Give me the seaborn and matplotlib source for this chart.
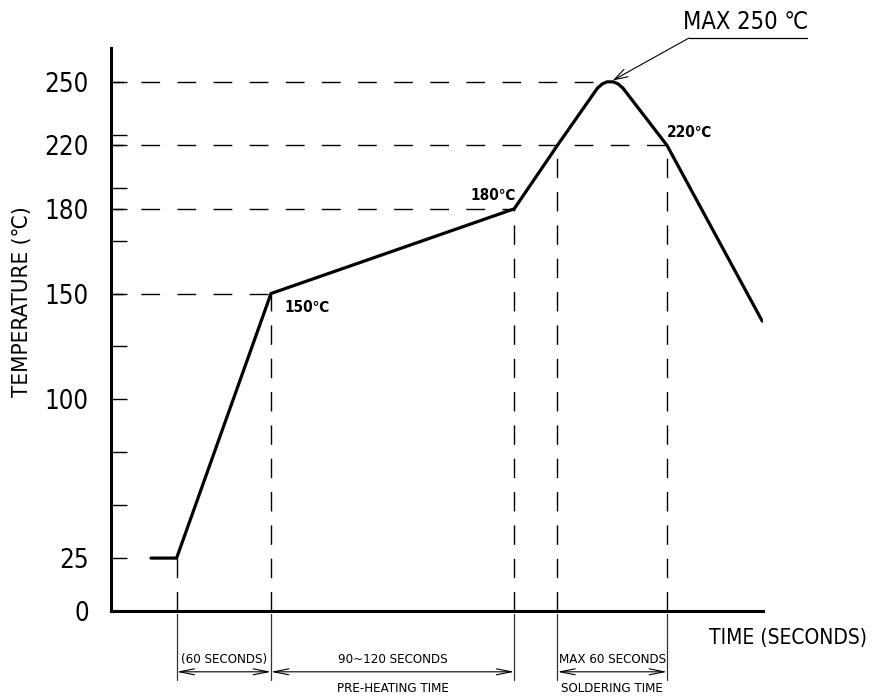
import numpy as np
import pandas as pd
import matplotlib
matplotlib.use("Agg")
import matplotlib.pyplot as plt
import seaborn as sns

# ---------------- data ----------------
time_s = [25, 41, 100, 252, 279, 304, 307, 310, 314, 317, 320, 347.5, 407]
temp_c = [25, 25, 150, 180, 220, 247, 249, 250, 250, 249, 247, 220, 137]

# horizontal reference levels (temperature, time where they meet the curve)
hline_temp = [150, 180, 220, 250]
hline_end = [100, 252, 347.5, 307]
# vertical reference lines (time, temperature at the curve)
vline_time = [41, 100, 252, 279, 347.5]
vline_top = [25, 150, 180, 220, 220]

# labelled y ticks and unlabelled intermediate ticks
ytick_major = [0, 25, 100, 150, 180, 220, 250]
ytick_labels = ["0", "25", "100", "150", "180", "220", "250"]
ytick_minor_pos = [50, 75, 125, 175, 200, 225]

# schematic (non-linear) temperature axis anchors
scale_temp = [-1000, 0, 150, 180, 220, 1000]
scale_pos = [-1000, 0, 150, 190, 220, 1000]

# curve point labels
point_labels = ["150℃", "180℃", "220℃"]
point_xy = [(100, 150), (252, 180), (347.5, 220)]
point_offsets = [(26, -10), (-15, 9.5), (16, 9.5)]

# dimension spans below the time axis
spans = [(41, 100), (100, 252), (279, 347.5)]
span_top = ["(60 SECONDS)", "90~120 SECONDS", "MAX 60 SECONDS"]
span_bottom = ["", "PRE-HEATING TIME", "SOLDERING TIME"]

peak_xy = (312, 250)

# ---------------- style ----------------
sns.set_theme(style="white")
plt.rcParams["font.family"] = ["DejaVu Sans"]
plt.rcParams["font.stretch"] = "condensed"
plt.rcParams["lines.scale_dashes"] = False

fig = plt.figure(figsize=(8.9, 6.97), dpi=100)
ax = fig.add_axes([111 / 890, 86 / 697, 652 / 890, 563 / 697])

df = pd.DataFrame({"time": time_s, "temp": temp_c})
sns.lineplot(data=df, x="time", y="temp", sort=False, color="black",
             lw=2.3, ax=ax, zorder=5)


def fwd(t):
    return np.interp(t, scale_temp, scale_pos)


def inv(p):
    return np.interp(p, scale_pos, scale_temp)


ax.set_yscale("function", functions=(fwd, inv))
ax.set_xlim(0, 407.5)
ax.set_ylim(0, 266)

for s in ["top", "right"]:
    ax.spines[s].set_visible(False)
for s in ["left", "bottom"]:
    ax.spines[s].set_linewidth(2.2)
    ax.spines[s].set_color("black")

minor_temps = list(inv(np.array(ytick_minor_pos, dtype=float)))
ax.set_yticks(ytick_major, ytick_labels)
ax.set_yticks(minor_temps, minor=True)
ax.tick_params(axis="y", which="both", direction="in", length=11.5,
               width=1.0, color="black", left=True)
ax.tick_params(axis="y", which="major", labelsize=18.5, pad=16,
               labelcolor="black")
for lab in ax.get_yticklabels():
    lab.set_fontstretch("condensed")
ax.set_xticks([])
ax.tick_params(axis="x", bottom=False)

ax.set_xlabel("")
ax.set_ylabel("TEMPERATURE (℃)", fontsize=16, color="black",
              fontstretch="condensed")
ax.yaxis.set_label_coords((32 - 111) / 652, (611 - 302) / 563)

for t, xe in zip(hline_temp, hline_end):
    ax.plot([0, xe], [t, t], color="black", lw=1.0,
            linestyle=(4.5, (13.5, 12.5)), zorder=3)

xtrans = ax.get_xaxis_transform()
for x, top in zip(vline_time, vline_top):
    ax.plot([x, x], [0, top], color="black", lw=1.0,
            linestyle=(0, (14, 10)), zorder=3)
    ax.plot([x, x], [-0.005, -0.122], color="#333333", lw=0.9,
            transform=xtrans, clip_on=False)

for (x0, x1), ttop, tbot in zip(spans, span_top, span_bottom):
    ax.annotate("", xy=(x1, -0.108), xytext=(x0, -0.108),
                xycoords=xtrans, textcoords=xtrans,
                arrowprops=dict(arrowstyle="<->,head_length=0.9,head_width=0.18",
                                lw=0.8, color="black", shrinkA=0, shrinkB=0),
                annotation_clip=False)
    xm = (x0 + x1) / 2
    ax.text(xm, -0.087, ttop, transform=xtrans, ha="center", va="center",
            fontsize=9.5, color="black", clip_on=False, fontstretch="condensed")
    if tbot:
        ax.text(xm, -0.137, tbot, transform=xtrans, ha="center",
                va="center", fontsize=9.5, color="black", clip_on=False,
                fontstretch="condensed")

ax.text(788 / 890, 59 / 697, "TIME (SECONDS)", transform=fig.transFigure,
        ha="center", va="center", fontsize=15, color="black",
        fontstretch="condensed")

for lab, xy, off in zip(point_labels, point_xy, point_offsets):
    ax.annotate(lab, xy=xy, xytext=off, textcoords="offset points",
                ha="center", va="center", fontsize=11, fontweight="bold",
                color="black", fontstretch="condensed")

lead_start = (689 / 890, (697 - 38) / 697)
ax.annotate("", xy=peak_xy, xytext=lead_start, textcoords="figure fraction",
            arrowprops=dict(arrowstyle="->,head_length=0.8,head_width=0.25",
                            lw=0.8, color="black", shrinkA=0, shrinkB=2),
            annotation_clip=False)
fig.add_artist(plt.Line2D([689 / 890, 807 / 890],
                          [(697 - 38) / 697, (697 - 38) / 697],
                          transform=fig.transFigure, color="black", lw=0.9))
fig.text(746 / 890, (697 - 22) / 697, "MAX 250 ℃", ha="center",
         va="center", fontsize=17, color="black", fontstretch="condensed")

fig.savefig("out.png", dpi=100)
